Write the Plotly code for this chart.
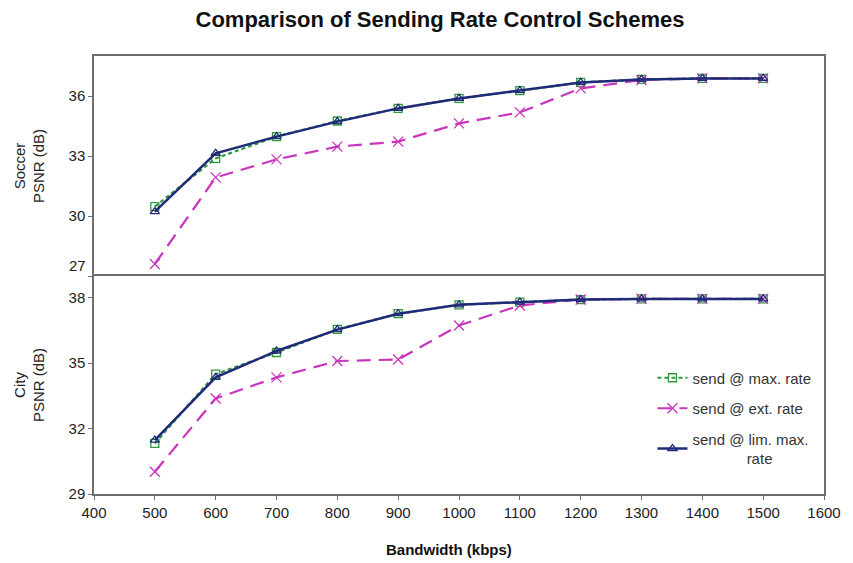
import plotly.graph_objects as go
from plotly.subplots import make_subplots

bandwidth = [500, 600, 700, 800, 900, 1000, 1100, 1200, 1300, 1400, 1500]

soccer_max = [30.47, 32.88, 33.97, 34.75, 35.38, 35.88, 36.27, 36.68, 36.83, 36.88, 36.88]
soccer_ext = [27.6, 31.93, 32.83, 33.47, 33.72, 34.63, 35.18, 36.38, 36.8, 36.88, 36.88]
soccer_lim = [30.22, 33.13, 33.97, 34.72, 35.38, 35.88, 36.27, 36.68, 36.83, 36.88, 36.88]

city_max = [31.32, 34.5, 35.49, 36.55, 37.27, 37.68, 37.8, 37.92, 37.95, 37.95, 37.95]
city_ext = [30.02, 33.38, 34.35, 35.1, 35.17, 36.73, 37.65, 37.92, 37.95, 37.95, 37.95]
city_lim = [31.47, 34.35, 35.56, 36.54, 37.27, 37.68, 37.8, 37.92, 37.95, 37.95, 37.95]

series_names = ["send @ max. rate", "send @ ext. rate",
                "send @ lim. max.<br>\u00a0\u00a0\u00a0\u00a0\u00a0\u00a0\u00a0\u00a0\u00a0\u00a0\u00a0\u00a0\u00a0rate"]

x_ticks = [400, 500, 600, 700, 800, 900, 1000, 1100, 1200, 1300, 1400, 1500, 1600]
soccer_ticks = [27, 30, 33, 36]
city_ticks = [29, 32, 35, 38]

GREEN = "#2e9a3e"
MAGENTA = "#c936bd"
NAVY = "#1f2a78"
FONT = "Arial, Liberation Sans, sans-serif"

fig = make_subplots(rows=2, cols=1, shared_xaxes=True, vertical_spacing=0.0,
                    row_heights=[220, 218])

styles = [
    dict(color=GREEN, dash="4px,3px", symbol="square-open", size=8, width=2.2),
    dict(color=MAGENTA, dash="14px,8px", symbol="x-thin-open", size=10, width=2.2),
    dict(color=NAVY, dash="solid", symbol="triangle-up-open", size=8, width=2.5),
]

for row, data in ((1, [soccer_max, soccer_ext, soccer_lim]), (2, [city_max, city_ext, city_lim])):
    for i, (vals, st, name) in enumerate(zip(data, styles, series_names)):
        fig.add_trace(go.Scatter(
            x=bandwidth, y=vals, mode="lines+markers", name=name,
            legendgroup=f"g{i}", showlegend=(row == 2),
            line=dict(color=st["color"], dash=st["dash"], width=st["width"]),
            marker=dict(symbol=st["symbol"], size=st["size"], color=st["color"],
                        line=dict(color=st["color"], width=1.3)),
        ), row=row, col=1)

LINE = "#6e6e6e"
tickfont = dict(size=15, color="#222", family=FONT)
axis_common = dict(showline=True, linecolor=LINE, linewidth=1.5,
                   tickcolor=LINE, showgrid=False, zeroline=False, tickfont=tickfont)

# upper panel: only top frame line from its x axis
fig.update_xaxes(range=[400, 1600], tickvals=x_ticks, side="top", mirror=False,
                 showticklabels=False, ticks="", row=1, col=1, **axis_common)
# lower panel: divider line (mirror) + bottom axis
fig.update_xaxes(range=[400, 1600], tickvals=x_ticks, mirror=True, ticks="outside",
                 ticklen=4, row=2, col=1, **axis_common)

fig.update_yaxes(range=[27, 38], tickvals=soccer_ticks, mirror=True, ticks="outside", ticklen=4,
                 ticktext=["", "30", "33", "36"], row=1, col=1,
                 title=dict(text="Soccer<br>PSNR (dB)", font=dict(size=15, color="#222", family=FONT), standoff=20),
                 **axis_common)
fig.update_yaxes(range=[29, 39], tickvals=city_ticks, mirror=True, ticks="outside", ticklen=4,
                 row=2, col=1,
                 title=dict(text="City<br>PSNR (dB)", font=dict(size=15, color="#222", family=FONT), standoff=20),
                 **axis_common)

fig.add_annotation(text="27", x=0, xref="x domain", xanchor="right", xshift=-6,
                   y=27, yref="y", yshift=11, showarrow=False, font=tickfont)

fig.add_annotation(text="<b>Bandwidth (kbps)</b>", x=(453 - 94) / 738, xref="paper",
                   y=0, yref="paper", yanchor="middle", yshift=-55,
                   showarrow=False, font=dict(size=15, color="#111", family=FONT))

fig.update_layout(
    width=853, height=563,
    margin=dict(l=94, r=21, t=56, b=69),
    paper_bgcolor="white", plot_bgcolor="white",
    font=dict(family=FONT, color="#222"),
    title=dict(text="<b>Comparison of Sending Rate Control Schemes</b>",
               x=440 / 853, xanchor="center", y=1 - 19 / 563, yanchor="middle",
               font=dict(size=22, color="#111", family=FONT)),
    legend=dict(x=0.765, y=0.1735, xanchor="left", yanchor="middle",
                bgcolor="rgba(0,0,0,0)", font=dict(size=15, color="#333", family=FONT),
                tracegroupgap=8, traceorder="grouped", itemwidth=30),
    showlegend=True,
)

fig.write_html("out.html")
